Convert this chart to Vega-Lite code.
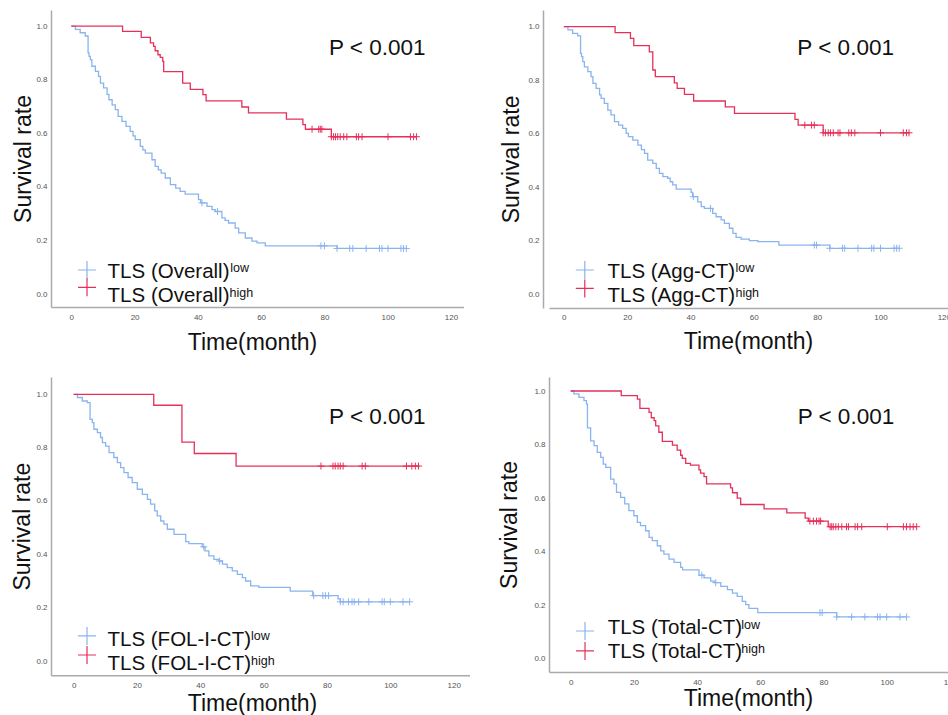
{
"$schema": "https://vega.github.io/schema/vega-lite/v6.json",
"background": "white",
"padding": {"left": 11, "top": 10, "right": -9, "bottom": 0},
"config": {"view": {"stroke": null}, "font": "Liberation Sans",
  "axis": {"domainColor": "#aaaaaa", "domainWidth": 1.5, "ticks": false, "grid": false, "labelFontSize": 8, "labelColor": "#555555", "labelFont": "Liberation Sans", "titleFont": "Liberation Sans", "titleFontSize": 23, "titleFontWeight": "normal", "titleColor": "#111111"}},
"datasets": {
"km": [
{"p":"TL","g":"low","t":0,"s":1},{"p":"TL","g":"low","t":1.3,"s":0.988},{"p":"TL","g":"low","t":2.8,"s":0.975},{"p":"TL","g":"low","t":4.4,"s":0.963},{"p":"TL","g":"low","t":5.3,"s":0.9},{"p":"TL","g":"low","t":5.6,"s":0.887},{"p":"TL","g":"low","t":6.0,"s":0.875},{"p":"TL","g":"low","t":6.5,"s":0.85},{"p":"TL","g":"low","t":7.6,"s":0.831},{"p":"TL","g":"low","t":8.6,"s":0.812},{"p":"TL","g":"low","t":9.2,"s":0.787},{"p":"TL","g":"low","t":10.2,"s":0.769},{"p":"TL","g":"low","t":11.3,"s":0.745},{"p":"TL","g":"low","t":11.9,"s":0.725},{"p":"TL","g":"low","t":12.9,"s":0.706},{"p":"TL","g":"low","t":13.9,"s":0.688},{"p":"TL","g":"low","t":14.8,"s":0.663},{"p":"TL","g":"low","t":16.0,"s":0.644},{"p":"TL","g":"low","t":17.3,"s":0.626},{"p":"TL","g":"low","t":18.6,"s":0.607},{"p":"TL","g":"low","t":19.5,"s":0.59},{"p":"TL","g":"low","t":20.2,"s":0.576},{"p":"TL","g":"low","t":21.8,"s":0.551},{"p":"TL","g":"low","t":22.6,"s":0.538},{"p":"TL","g":"low","t":23.4,"s":0.526},{"p":"TL","g":"low","t":25.5,"s":0.501},{"p":"TL","g":"low","t":26.5,"s":0.476},{"p":"TL","g":"low","t":27.5,"s":0.463},{"p":"TL","g":"low","t":28.4,"s":0.451},{"p":"TL","g":"low","t":29.7,"s":0.433},{"p":"TL","g":"low","t":31.3,"s":0.408},{"p":"TL","g":"low","t":33.0,"s":0.395},{"p":"TL","g":"low","t":34.4,"s":0.383},{"p":"TL","g":"low","t":36.0,"s":0.373},{"p":"TL","g":"low","t":40.2,"s":0.352},{"p":"TL","g":"low","t":40.9,"s":0.34},{"p":"TL","g":"low","t":42.9,"s":0.327},{"p":"TL","g":"low","t":44.5,"s":0.315},{"p":"TL","g":"low","t":45.5,"s":0.308},{"p":"TL","g":"low","t":47.6,"s":0.284},{"p":"TL","g":"low","t":48.6,"s":0.275},{"p":"TL","g":"low","t":49.7,"s":0.265},{"p":"TL","g":"low","t":51.8,"s":0.246},{"p":"TL","g":"low","t":52.9,"s":0.228},{"p":"TL","g":"low","t":55.0,"s":0.209},{"p":"TL","g":"low","t":57.1,"s":0.197},{"p":"TL","g":"low","t":58.7,"s":0.191},{"p":"TL","g":"low","t":61.3,"s":0.18},{"p":"TL","g":"low","t":84.0,"s":0.17},{"p":"TL","g":"low","t":105.9,"s":0.17},
{"p":"TL","g":"high","t":0,"s":1},{"p":"TL","g":"high","t":16.2,"s":0.98},{"p":"TL","g":"high","t":22.1,"s":0.958},{"p":"TL","g":"high","t":25.0,"s":0.937},{"p":"TL","g":"high","t":26.0,"s":0.924},{"p":"TL","g":"high","t":26.5,"s":0.908},{"p":"TL","g":"high","t":27.4,"s":0.893},{"p":"TL","g":"high","t":28.1,"s":0.883},{"p":"TL","g":"high","t":28.9,"s":0.868},{"p":"TL","g":"high","t":29.2,"s":0.83},{"p":"TL","g":"high","t":35.2,"s":0.787},{"p":"TL","g":"high","t":37.6,"s":0.764},{"p":"TL","g":"high","t":41.6,"s":0.744},{"p":"TL","g":"high","t":42.6,"s":0.721},{"p":"TL","g":"high","t":53.9,"s":0.698},{"p":"TL","g":"high","t":56.0,"s":0.676},{"p":"TL","g":"high","t":68.0,"s":0.653},{"p":"TL","g":"high","t":73.2,"s":0.632},{"p":"TL","g":"high","t":74.0,"s":0.615},{"p":"TL","g":"high","t":82.2,"s":0.587},{"p":"TL","g":"high","t":109.1,"s":0.587},
{"p":"TR","g":"low","t":0,"s":1},{"p":"TR","g":"low","t":1.3,"s":0.988},{"p":"TR","g":"low","t":2.8,"s":0.975},{"p":"TR","g":"low","t":4.4,"s":0.966},{"p":"TR","g":"low","t":5.3,"s":0.9},{"p":"TR","g":"low","t":5.6,"s":0.888},{"p":"TR","g":"low","t":6.0,"s":0.869},{"p":"TR","g":"low","t":6.5,"s":0.85},{"p":"TR","g":"low","t":7.6,"s":0.832},{"p":"TR","g":"low","t":8.6,"s":0.813},{"p":"TR","g":"low","t":9.2,"s":0.788},{"p":"TR","g":"low","t":10.2,"s":0.769},{"p":"TR","g":"low","t":11.3,"s":0.745},{"p":"TR","g":"low","t":11.8,"s":0.732},{"p":"TR","g":"low","t":12.8,"s":0.713},{"p":"TR","g":"low","t":13.9,"s":0.688},{"p":"TR","g":"low","t":14.9,"s":0.67},{"p":"TR","g":"low","t":16.0,"s":0.645},{"p":"TR","g":"low","t":17.3,"s":0.632},{"p":"TR","g":"low","t":18.6,"s":0.62},{"p":"TR","g":"low","t":19.7,"s":0.601},{"p":"TR","g":"low","t":20.4,"s":0.589},{"p":"TR","g":"low","t":21.8,"s":0.576},{"p":"TR","g":"low","t":23.4,"s":0.557},{"p":"TR","g":"low","t":24.5,"s":0.54},{"p":"TR","g":"low","t":25.5,"s":0.526},{"p":"TR","g":"low","t":26.5,"s":0.501},{"p":"TR","g":"low","t":28.1,"s":0.489},{"p":"TR","g":"low","t":29.2,"s":0.47},{"p":"TR","g":"low","t":30.2,"s":0.451},{"p":"TR","g":"low","t":31.3,"s":0.439},{"p":"TR","g":"low","t":32.8,"s":0.433},{"p":"TR","g":"low","t":33.6,"s":0.42},{"p":"TR","g":"low","t":34.4,"s":0.408},{"p":"TR","g":"low","t":35.5,"s":0.392},{"p":"TR","g":"low","t":40.2,"s":0.38},{"p":"TR","g":"low","t":40.7,"s":0.364},{"p":"TR","g":"low","t":42.3,"s":0.345},{"p":"TR","g":"low","t":43.4,"s":0.327},{"p":"TR","g":"low","t":44.4,"s":0.32},{"p":"TR","g":"low","t":47.0,"s":0.302},{"p":"TR","g":"low","t":48.1,"s":0.289},{"p":"TR","g":"low","t":49.7,"s":0.277},{"p":"TR","g":"low","t":50.7,"s":0.264},{"p":"TR","g":"low","t":52.3,"s":0.246},{"p":"TR","g":"low","t":53.4,"s":0.227},{"p":"TR","g":"low","t":54.4,"s":0.212},{"p":"TR","g":"low","t":56.0,"s":0.205},{"p":"TR","g":"low","t":58.6,"s":0.2},{"p":"TR","g":"low","t":61.3,"s":0.196},{"p":"TR","g":"low","t":67.9,"s":0.183},{"p":"TR","g":"low","t":84.0,"s":0.171},{"p":"TR","g":"low","t":105.9,"s":0.171},
{"p":"TR","g":"high","t":0,"s":1},{"p":"TR","g":"high","t":16.2,"s":0.978},{"p":"TR","g":"high","t":21.05,"s":0.956},{"p":"TR","g":"high","t":22.1,"s":0.929},{"p":"TR","g":"high","t":27.0,"s":0.906},{"p":"TR","g":"high","t":28.1,"s":0.838},{"p":"TR","g":"high","t":28.9,"s":0.813},{"p":"TR","g":"high","t":34.9,"s":0.79},{"p":"TR","g":"high","t":35.8,"s":0.769},{"p":"TR","g":"high","t":38.1,"s":0.747},{"p":"TR","g":"high","t":41.0,"s":0.722},{"p":"TR","g":"high","t":51.0,"s":0.7},{"p":"TR","g":"high","t":53.9,"s":0.676},{"p":"TR","g":"high","t":73.0,"s":0.653},{"p":"TR","g":"high","t":74.0,"s":0.632},{"p":"TR","g":"high","t":81.9,"s":0.603},{"p":"TR","g":"high","t":109.0,"s":0.603},
{"p":"BL","g":"low","t":0,"s":1},{"p":"BL","g":"low","t":1.2,"s":0.988},{"p":"BL","g":"low","t":2.75,"s":0.975},{"p":"BL","g":"low","t":4.3,"s":0.969},{"p":"BL","g":"low","t":5.2,"s":0.906},{"p":"BL","g":"low","t":5.9,"s":0.894},{"p":"BL","g":"low","t":6.4,"s":0.869},{"p":"BL","g":"low","t":7.5,"s":0.856},{"p":"BL","g":"low","t":8.5,"s":0.838},{"p":"BL","g":"low","t":9.1,"s":0.819},{"p":"BL","g":"low","t":10.1,"s":0.806},{"p":"BL","g":"low","t":11.2,"s":0.781},{"p":"BL","g":"low","t":12.7,"s":0.763},{"p":"BL","g":"low","t":13.8,"s":0.744},{"p":"BL","g":"low","t":14.85,"s":0.725},{"p":"BL","g":"low","t":15.9,"s":0.706},{"p":"BL","g":"low","t":17.2,"s":0.688},{"p":"BL","g":"low","t":18.5,"s":0.669},{"p":"BL","g":"low","t":20.1,"s":0.644},{"p":"BL","g":"low","t":21.7,"s":0.625},{"p":"BL","g":"low","t":23.3,"s":0.606},{"p":"BL","g":"low","t":24.3,"s":0.588},{"p":"BL","g":"low","t":25.6,"s":0.563},{"p":"BL","g":"low","t":26.4,"s":0.544},{"p":"BL","g":"low","t":27.5,"s":0.525},{"p":"BL","g":"low","t":28.5,"s":0.513},{"p":"BL","g":"low","t":29.6,"s":0.494},{"p":"BL","g":"low","t":31.7,"s":0.475},{"p":"BL","g":"low","t":35.4,"s":0.448},{"p":"BL","g":"low","t":36.4,"s":0.44},{"p":"BL","g":"low","t":40.6,"s":0.428},{"p":"BL","g":"low","t":41.5,"s":0.413},{"p":"BL","g":"low","t":42.7,"s":0.394},{"p":"BL","g":"low","t":44.3,"s":0.381},{"p":"BL","g":"low","t":45.9,"s":0.375},{"p":"BL","g":"low","t":47.0,"s":0.363},{"p":"BL","g":"low","t":48.5,"s":0.35},{"p":"BL","g":"low","t":50.1,"s":0.338},{"p":"BL","g":"low","t":51.7,"s":0.325},{"p":"BL","g":"low","t":53.3,"s":0.313},{"p":"BL","g":"low","t":54.3,"s":0.3},{"p":"BL","g":"low","t":55.9,"s":0.282},{"p":"BL","g":"low","t":58.5,"s":0.276},{"p":"BL","g":"low","t":68.4,"s":0.262},{"p":"BL","g":"low","t":75.5,"s":0.245},{"p":"BL","g":"low","t":83.5,"s":0.233},{"p":"BL","g":"low","t":84.2,"s":0.222},{"p":"BL","g":"low","t":106.1,"s":0.222},
{"p":"BL","g":"high","t":0,"s":1},{"p":"BL","g":"high","t":25.3,"s":0.959},{"p":"BL","g":"high","t":34.2,"s":0.821},{"p":"BL","g":"high","t":38.1,"s":0.778},{"p":"BL","g":"high","t":51.3,"s":0.731},{"p":"BL","g":"high","t":109.2,"s":0.731},
{"p":"BR","g":"low","t":0,"s":1},{"p":"BR","g":"low","t":1.0,"s":0.989},{"p":"BR","g":"low","t":2.6,"s":0.976},{"p":"BR","g":"low","t":4.2,"s":0.964},{"p":"BR","g":"low","t":5.0,"s":0.951},{"p":"BR","g":"low","t":5.3,"s":0.862},{"p":"BR","g":"low","t":6.3,"s":0.814},{"p":"BR","g":"low","t":7.4,"s":0.796},{"p":"BR","g":"low","t":8.4,"s":0.771},{"p":"BR","g":"low","t":9.5,"s":0.752},{"p":"BR","g":"low","t":10.3,"s":0.727},{"p":"BR","g":"low","t":11.1,"s":0.715},{"p":"BR","g":"low","t":12.65,"s":0.671},{"p":"BR","g":"low","t":13.7,"s":0.653},{"p":"BR","g":"low","t":14.5,"s":0.621},{"p":"BR","g":"low","t":15.8,"s":0.603},{"p":"BR","g":"low","t":17.1,"s":0.578},{"p":"BR","g":"low","t":18.4,"s":0.553},{"p":"BR","g":"low","t":20.0,"s":0.534},{"p":"BR","g":"low","t":21.1,"s":0.509},{"p":"BR","g":"low","t":22.1,"s":0.497},{"p":"BR","g":"low","t":23.7,"s":0.478},{"p":"BR","g":"low","t":24.8,"s":0.453},{"p":"BR","g":"low","t":25.8,"s":0.441},{"p":"BR","g":"low","t":27.4,"s":0.422},{"p":"BR","g":"low","t":28.5,"s":0.403},{"p":"BR","g":"low","t":29.5,"s":0.391},{"p":"BR","g":"low","t":31.1,"s":0.372},{"p":"BR","g":"low","t":32.7,"s":0.36},{"p":"BR","g":"low","t":34.8,"s":0.341},{"p":"BR","g":"low","t":35.4,"s":0.332},{"p":"BR","g":"low","t":40.6,"s":0.312},{"p":"BR","g":"low","t":42.2,"s":0.302},{"p":"BR","g":"low","t":44.3,"s":0.29},{"p":"BR","g":"low","t":45.5,"s":0.284},{"p":"BR","g":"low","t":47.5,"s":0.27},{"p":"BR","g":"low","t":49.6,"s":0.258},{"p":"BR","g":"low","t":51.2,"s":0.245},{"p":"BR","g":"low","t":52.7,"s":0.233},{"p":"BR","g":"low","t":54.3,"s":0.214},{"p":"BR","g":"low","t":55.4,"s":0.202},{"p":"BR","g":"low","t":56.4,"s":0.188},{"p":"BR","g":"low","t":59.2,"s":0.172},{"p":"BR","g":"low","t":84.2,"s":0.156},{"p":"BR","g":"low","t":106.3,"s":0.156},
{"p":"BR","g":"high","t":0,"s":1},{"p":"BR","g":"high","t":16.0,"s":0.983},{"p":"BR","g":"high","t":21.1,"s":0.97},{"p":"BR","g":"high","t":21.9,"s":0.935},{"p":"BR","g":"high","t":24.8,"s":0.92},{"p":"BR","g":"high","t":25.5,"s":0.9},{"p":"BR","g":"high","t":26.4,"s":0.889},{"p":"BR","g":"high","t":26.9,"s":0.87},{"p":"BR","g":"high","t":27.9,"s":0.846},{"p":"BR","g":"high","t":29.0,"s":0.812},{"p":"BR","g":"high","t":32.2,"s":0.798},{"p":"BR","g":"high","t":33.7,"s":0.779},{"p":"BR","g":"high","t":34.8,"s":0.76},{"p":"BR","g":"high","t":35.3,"s":0.748},{"p":"BR","g":"high","t":36.4,"s":0.73},{"p":"BR","g":"high","t":37.9,"s":0.723},{"p":"BR","g":"high","t":40.6,"s":0.705},{"p":"BR","g":"high","t":41.1,"s":0.693},{"p":"BR","g":"high","t":42.2,"s":0.68},{"p":"BR","g":"high","t":43.0,"s":0.653},{"p":"BR","g":"high","t":50.6,"s":0.638},{"p":"BR","g":"high","t":51.2,"s":0.62},{"p":"BR","g":"high","t":52.7,"s":0.6},{"p":"BR","g":"high","t":53.8,"s":0.576},{"p":"BR","g":"high","t":61.2,"s":0.56},{"p":"BR","g":"high","t":68.4,"s":0.545},{"p":"BR","g":"high","t":74.2,"s":0.525},{"p":"BR","g":"high","t":75.2,"s":0.514},{"p":"BR","g":"high","t":81.5,"s":0.493},{"p":"BR","g":"high","t":109.5,"s":0.493}
],
"cens": [
{"p":"TL","g":"low","t":41.3,"s":0.34},{"p":"TL","g":"low","t":46.2,"s":0.308},{"p":"TL","g":"low","t":78.9,"s":0.18},{"p":"TL","g":"low","t":80.0,"s":0.18},{"p":"TL","g":"low","t":84.0,"s":0.17},{"p":"TL","g":"low","t":88.0,"s":0.17},{"p":"TL","g":"low","t":89.0,"s":0.17},{"p":"TL","g":"low","t":93.2,"s":0.17},{"p":"TL","g":"low","t":97.4,"s":0.17},{"p":"TL","g":"low","t":98.2,"s":0.17},{"p":"TL","g":"low","t":100.1,"s":0.17},{"p":"TL","g":"low","t":104.2,"s":0.17},{"p":"TL","g":"low","t":105.0,"s":0.17},{"p":"TL","g":"low","t":105.9,"s":0.17},
{"p":"TL","g":"high","t":76.1,"s":0.615},{"p":"TL","g":"high","t":78.2,"s":0.615},{"p":"TL","g":"high","t":78.7,"s":0.615},{"p":"TL","g":"high","t":79.2,"s":0.615},{"p":"TL","g":"high","t":82.2,"s":0.587},{"p":"TL","g":"high","t":82.9,"s":0.587},{"p":"TL","g":"high","t":83.5,"s":0.587},{"p":"TL","g":"high","t":84.2,"s":0.587},{"p":"TL","g":"high","t":85.0,"s":0.587},{"p":"TL","g":"high","t":86.1,"s":0.587},{"p":"TL","g":"high","t":87.1,"s":0.587},{"p":"TL","g":"high","t":90.1,"s":0.587},{"p":"TL","g":"high","t":90.8,"s":0.587},{"p":"TL","g":"high","t":91.9,"s":0.587},{"p":"TL","g":"high","t":100.1,"s":0.587},{"p":"TL","g":"high","t":107.2,"s":0.587},{"p":"TL","g":"high","t":108.2,"s":0.587},{"p":"TL","g":"high","t":109.1,"s":0.587},
{"p":"TR","g":"low","t":40.9,"s":0.364},{"p":"TR","g":"low","t":46.3,"s":0.32},{"p":"TR","g":"low","t":79.1,"s":0.183},{"p":"TR","g":"low","t":79.8,"s":0.183},{"p":"TR","g":"low","t":84.0,"s":0.171},{"p":"TR","g":"low","t":88.0,"s":0.171},{"p":"TR","g":"low","t":88.7,"s":0.171},{"p":"TR","g":"low","t":92.9,"s":0.171},{"p":"TR","g":"low","t":97.2,"s":0.171},{"p":"TR","g":"low","t":97.9,"s":0.171},{"p":"TR","g":"low","t":100.0,"s":0.171},{"p":"TR","g":"low","t":104.3,"s":0.171},{"p":"TR","g":"low","t":105.1,"s":0.171},{"p":"TR","g":"low","t":105.9,"s":0.171},
{"p":"TR","g":"high","t":76.1,"s":0.632},{"p":"TR","g":"high","t":78.2,"s":0.632},{"p":"TR","g":"high","t":79.1,"s":0.632},{"p":"TR","g":"high","t":81.9,"s":0.603},{"p":"TR","g":"high","t":82.6,"s":0.603},{"p":"TR","g":"high","t":83.5,"s":0.603},{"p":"TR","g":"high","t":84.2,"s":0.603},{"p":"TR","g":"high","t":85.1,"s":0.603},{"p":"TR","g":"high","t":86.6,"s":0.603},{"p":"TR","g":"high","t":87.2,"s":0.603},{"p":"TR","g":"high","t":90.0,"s":0.603},{"p":"TR","g":"high","t":90.8,"s":0.603},{"p":"TR","g":"high","t":91.9,"s":0.603},{"p":"TR","g":"high","t":100.0,"s":0.603},{"p":"TR","g":"high","t":107.2,"s":0.603},{"p":"TR","g":"high","t":108.2,"s":0.603},{"p":"TR","g":"high","t":109.0,"s":0.603},
{"p":"BL","g":"low","t":41.1,"s":0.428},{"p":"BL","g":"low","t":46.1,"s":0.375},{"p":"BL","g":"low","t":75.8,"s":0.245},{"p":"BL","g":"low","t":78.7,"s":0.245},{"p":"BL","g":"low","t":79.5,"s":0.245},{"p":"BL","g":"low","t":80.5,"s":0.245},{"p":"BL","g":"low","t":84.2,"s":0.222},{"p":"BL","g":"low","t":85.1,"s":0.222},{"p":"BL","g":"low","t":86.8,"s":0.222},{"p":"BL","g":"low","t":87.9,"s":0.222},{"p":"BL","g":"low","t":88.6,"s":0.222},{"p":"BL","g":"low","t":90.0,"s":0.222},{"p":"BL","g":"low","t":93.2,"s":0.222},{"p":"BL","g":"low","t":97.4,"s":0.222},{"p":"BL","g":"low","t":98.1,"s":0.222},{"p":"BL","g":"low","t":100.0,"s":0.222},{"p":"BL","g":"low","t":104.0,"s":0.222},{"p":"BL","g":"low","t":106.1,"s":0.222},
{"p":"BL","g":"high","t":78.1,"s":0.731},{"p":"BL","g":"high","t":81.9,"s":0.731},{"p":"BL","g":"high","t":82.6,"s":0.731},{"p":"BL","g":"high","t":83.5,"s":0.731},{"p":"BL","g":"high","t":84.2,"s":0.731},{"p":"BL","g":"high","t":85.1,"s":0.731},{"p":"BL","g":"high","t":91.1,"s":0.731},{"p":"BL","g":"high","t":92.1,"s":0.731},{"p":"BL","g":"high","t":105.1,"s":0.731},{"p":"BL","g":"high","t":106.8,"s":0.731},{"p":"BL","g":"high","t":107.9,"s":0.731},{"p":"BL","g":"high","t":108.9,"s":0.731},
{"p":"BR","g":"low","t":41.5,"s":0.312},{"p":"BR","g":"low","t":45.9,"s":0.284},{"p":"BR","g":"low","t":78.9,"s":0.172},{"p":"BR","g":"low","t":79.6,"s":0.172},{"p":"BR","g":"low","t":84.2,"s":0.156},{"p":"BR","g":"low","t":88.9,"s":0.156},{"p":"BR","g":"low","t":93.1,"s":0.156},{"p":"BR","g":"low","t":97.1,"s":0.156},{"p":"BR","g":"low","t":97.9,"s":0.156},{"p":"BR","g":"low","t":100.0,"s":0.156},{"p":"BR","g":"low","t":104.2,"s":0.156},{"p":"BR","g":"low","t":106.3,"s":0.156},
{"p":"BR","g":"high","t":75.7,"s":0.514},{"p":"BR","g":"high","t":76.8,"s":0.514},{"p":"BR","g":"high","t":77.8,"s":0.514},{"p":"BR","g":"high","t":78.6,"s":0.514},{"p":"BR","g":"high","t":79.1,"s":0.514},{"p":"BR","g":"high","t":82.1,"s":0.493},{"p":"BR","g":"high","t":82.6,"s":0.493},{"p":"BR","g":"high","t":83.1,"s":0.493},{"p":"BR","g":"high","t":83.9,"s":0.493},{"p":"BR","g":"high","t":84.7,"s":0.493},{"p":"BR","g":"high","t":85.8,"s":0.493},{"p":"BR","g":"high","t":87.3,"s":0.493},{"p":"BR","g":"high","t":87.9,"s":0.493},{"p":"BR","g":"high","t":90.0,"s":0.493},{"p":"BR","g":"high","t":90.8,"s":0.493},{"p":"BR","g":"high","t":92.1,"s":0.493},{"p":"BR","g":"high","t":100.2,"s":0.493},{"p":"BR","g":"high","t":105.3,"s":0.493},{"p":"BR","g":"high","t":106.3,"s":0.493},{"p":"BR","g":"high","t":107.4,"s":0.493},{"p":"BR","g":"high","t":108.4,"s":0.493},{"p":"BR","g":"high","t":109.5,"s":0.493}
],
"leg": [
{"p":"TL","g":"low","k":"sym","t":4.96,"s":0.0896,"label":""},{"p":"TL","g":"high","k":"sym","t":4.96,"s":0.025,"label":""},
{"p":"TL","g":"low","k":"txt","t":11.47,"s":0.0586,"label":"TLS (Overall)"},{"p":"TL","g":"high","k":"txt","t":11.47,"s":-0.0287,"label":"TLS (Overall)"},
{"p":"TL","g":"low","k":"sup","t":50.25,"s":0.083,"label":"low"},{"p":"TL","g":"high","k":"sup","t":50.0,"s":-0.01,"label":"high"},
{"p":"TR","g":"low","k":"sym","t":6.63,"s":0.0898,"label":""},{"p":"TR","g":"high","k":"sym","t":6.63,"s":0.021,"label":""},
{"p":"TR","g":"low","k":"txt","t":13.8,"s":0.061,"label":"TLS (Agg-CT)"},{"p":"TR","g":"high","k":"txt","t":13.8,"s":-0.029,"label":"TLS (Agg-CT)"},
{"p":"TR","g":"low","k":"sup","t":54.2,"s":0.083,"label":"low"},{"p":"TR","g":"high","k":"sup","t":54.2,"s":-0.01,"label":"high"},
{"p":"BL","g":"low","k":"sym","t":4.23,"s":0.094,"label":""},{"p":"BL","g":"high","k":"sym","t":4.23,"s":0.0225,"label":""},
{"p":"BL","g":"low","k":"txt","t":10.7,"s":0.056,"label":"TLS (FOL-I-CT)"},{"p":"BL","g":"high","k":"txt","t":10.7,"s":-0.035,"label":"TLS (FOL-I-CT)"},
{"p":"BL","g":"low","k":"sup","t":56.0,"s":0.079,"label":"low"},{"p":"BL","g":"high","k":"sup","t":56.0,"s":-0.016,"label":"high"},
{"p":"BR","g":"low","k":"sym","t":4.53,"s":0.1035,"label":""},{"p":"BR","g":"high","k":"sym","t":4.53,"s":0.029,"label":""},
{"p":"BR","g":"low","k":"txt","t":11.7,"s":0.091,"label":"TLS (Total-CT)"},{"p":"BR","g":"high","k":"txt","t":11.7,"s":0.004,"label":"TLS (Total-CT)"},
{"p":"BR","g":"low","k":"sup","t":54.0,"s":0.112,"label":"low"},{"p":"BR","g":"high","k":"sup","t":54.0,"s":0.02,"label":"high"}
],
"pv": [
{"p":"TL","t":96.7,"s":0.892,"label":"P < 0.001"},{"p":"TR","t":89.0,"s":0.894,"label":"P < 0.001"},{"p":"BL","t":95.9,"s":0.8875,"label":"P < 0.001"},{"p":"BR","t":87.1,"s":0.8756,"label":"P < 0.001"}
]
},
"columns": 2,
"align": "none",
"bounds": "flush",
"spacing": {"row": 69, "column": 79},
"concat": [
{"width": 412.6, "height": 297,
 "encoding": {
  "x": {"field": "t", "type": "quantitative", "scale": {"domain": [-6.42, 124], "nice": false, "zero": false}, "axis": {"values": [0,20,40,60,80,100,120], "title": "Time(month)", "titlePadding": 10, "titleX": 201, "labelPadding": 6}},
  "y": {"field": "s", "type": "quantitative", "scale": {"domain": [-0.0485, 1.06], "nice": false, "zero": false}, "axis": {"values": [0,0.2,0.4,0.6,0.8,1], "format": ".1f", "title": "Survival rate", "titlePadding": 0, "labelPadding": 4}},
  "color": {"field": "g", "type": "nominal", "scale": {"domain": ["low","high"], "range": ["#8AB4EE","#E5305A"]}, "legend": null}
 },
 "layer": [
  {"data": {"name": "km"}, "transform": [{"filter": "datum.p === 'TL'"}], "mark": {"type": "line", "interpolate": "step-after", "strokeWidth": 1.3}},
  {"data": {"name": "cens"}, "transform": [{"filter": "datum.p === 'TL'"}], "mark": {"type": "point", "shape": "M-1,0H1M0,-1V1", "size": 49, "strokeWidth": 1, "opacity": 1, "filled": false}},
  {"data": {"name": "leg"}, "transform": [{"filter": "datum.p === 'TL' && datum.k === 'sym'"}], "mark": {"type": "point", "shape": "M-1,0H1M0,-1V1", "size": 324, "strokeWidth": 1.2, "opacity": 1, "filled": false}},
  {"data": {"name": "leg"}, "transform": [{"filter": "datum.p === 'TL' && datum.k === 'txt'"}], "mark": {"type": "text", "align": "left", "baseline": "alphabetic", "fontSize": 20.5}, "encoding": {"text": {"field": "label"}, "color": {"value": "#111111"}}},
  {"data": {"name": "leg"}, "transform": [{"filter": "datum.p === 'TL' && datum.k === 'sup'"}], "mark": {"type": "text", "align": "left", "baseline": "alphabetic", "fontSize": 12.5}, "encoding": {"text": {"field": "label"}, "color": {"value": "#111111"}}},
  {"data": {"name": "pv"}, "transform": [{"filter": "datum.p === 'TL'"}], "mark": {"type": "text", "align": "center", "baseline": "alphabetic", "fontSize": 22.5}, "encoding": {"text": {"field": "label"}, "color": {"value": "#111111"}}}
 ]},
{"width": 407.5, "height": 297.9,
 "encoding": {
  "x": {"field": "t", "type": "quantitative", "scale": {"domain": [-4.67, 124], "nice": false, "zero": false}, "axis": {"values": [0,20,40,60,80,100,120], "title": "Time(month)", "titlePadding": 9, "titleX": 199, "labelPadding": 6}},
  "y": {"field": "s", "type": "quantitative", "scale": {"domain": [-0.052, 1.0625], "nice": false, "zero": false}, "axis": {"values": [0,0.2,0.4,0.6,0.8,1], "format": ".1f", "title": "Survival rate", "titlePadding": 4, "labelPadding": 4, "offset": 6}},
  "color": {"field": "g", "type": "nominal", "scale": {"domain": ["low","high"], "range": ["#8AB4EE","#E5305A"]}, "legend": null}
 },
 "layer": [
  {"data": {"name": "km"}, "transform": [{"filter": "datum.p === 'TR'"}], "mark": {"type": "line", "interpolate": "step-after", "strokeWidth": 1.3}},
  {"data": {"name": "cens"}, "transform": [{"filter": "datum.p === 'TR'"}], "mark": {"type": "point", "shape": "M-1,0H1M0,-1V1", "size": 49, "strokeWidth": 1, "opacity": 1, "filled": false}},
  {"data": {"name": "leg"}, "transform": [{"filter": "datum.p === 'TR' && datum.k === 'sym'"}], "mark": {"type": "point", "shape": "M-1,0H1M0,-1V1", "size": 324, "strokeWidth": 1.2, "opacity": 1, "filled": false}},
  {"data": {"name": "leg"}, "transform": [{"filter": "datum.p === 'TR' && datum.k === 'txt'"}], "mark": {"type": "text", "align": "left", "baseline": "alphabetic", "fontSize": 20.5}, "encoding": {"text": {"field": "label"}, "color": {"value": "#111111"}}},
  {"data": {"name": "leg"}, "transform": [{"filter": "datum.p === 'TR' && datum.k === 'sup'"}], "mark": {"type": "text", "align": "left", "baseline": "alphabetic", "fontSize": 12.5}, "encoding": {"text": {"field": "label"}, "color": {"value": "#111111"}}},
  {"data": {"name": "pv"}, "transform": [{"filter": "datum.p === 'TR'"}], "mark": {"type": "text", "align": "center", "baseline": "alphabetic", "fontSize": 22.5}, "encoding": {"text": {"field": "label"}, "color": {"value": "#111111"}}}
 ]},
{"width": 418.5, "height": 298.3,
 "encoding": {
  "x": {"field": "t", "type": "quantitative", "scale": {"domain": [-7.14, 125.0], "nice": false, "zero": false}, "axis": {"values": [0,20,40,60,80,100,120], "title": "Time(month)", "titlePadding": 3, "titleX": 201, "labelPadding": 6}},
  "y": {"field": "s", "type": "quantitative", "scale": {"domain": [-0.0536, 1.0649], "nice": false, "zero": false}, "axis": {"values": [0,0.2,0.4,0.6,0.8,1], "format": ".1f", "title": "Survival rate", "titlePadding": 1.5, "labelPadding": 4}},
  "color": {"field": "g", "type": "nominal", "scale": {"domain": ["low","high"], "range": ["#8AB4EE","#E5305A"]}, "legend": null}
 },
 "layer": [
  {"data": {"name": "km"}, "transform": [{"filter": "datum.p === 'BL'"}], "mark": {"type": "line", "interpolate": "step-after", "strokeWidth": 1.3}},
  {"data": {"name": "cens"}, "transform": [{"filter": "datum.p === 'BL'"}], "mark": {"type": "point", "shape": "M-1,0H1M0,-1V1", "size": 49, "strokeWidth": 1, "opacity": 1, "filled": false}},
  {"data": {"name": "leg"}, "transform": [{"filter": "datum.p === 'BL' && datum.k === 'sym'"}], "mark": {"type": "point", "shape": "M-1,0H1M0,-1V1", "size": 324, "strokeWidth": 1.2, "opacity": 1, "filled": false}},
  {"data": {"name": "leg"}, "transform": [{"filter": "datum.p === 'BL' && datum.k === 'txt'"}], "mark": {"type": "text", "align": "left", "baseline": "alphabetic", "fontSize": 20.5}, "encoding": {"text": {"field": "label"}, "color": {"value": "#111111"}}},
  {"data": {"name": "leg"}, "transform": [{"filter": "datum.p === 'BL' && datum.k === 'sup'"}], "mark": {"type": "text", "align": "left", "baseline": "alphabetic", "fontSize": 12.5}, "encoding": {"text": {"field": "label"}, "color": {"value": "#111111"}}},
  {"data": {"name": "pv"}, "transform": [{"filter": "datum.p === 'BL'"}], "mark": {"type": "text", "align": "center", "baseline": "alphabetic", "fontSize": 22.5}, "encoding": {"text": {"field": "label"}, "color": {"value": "#111111"}}}
 ]},
{"width": 413.5, "height": 295,
 "encoding": {
  "x": {"field": "t", "type": "quantitative", "scale": {"domain": [-6.87, 124], "nice": false, "zero": false}, "axis": {"values": [0,20,40,60,80,100,120], "title": "Time(month)", "titlePadding": 1, "titleX": 199, "labelPadding": 6}},
  "y": {"field": "s", "type": "quantitative", "scale": {"domain": [-0.0497, 1.0523], "nice": false, "zero": false}, "axis": {"values": [0,0.2,0.4,0.6,0.8,1], "format": ".1f", "title": "Survival rate", "titlePadding": 12, "labelPadding": 4}},
  "color": {"field": "g", "type": "nominal", "scale": {"domain": ["low","high"], "range": ["#8AB4EE","#E5305A"]}, "legend": null}
 },
 "layer": [
  {"data": {"name": "km"}, "transform": [{"filter": "datum.p === 'BR'"}], "mark": {"type": "line", "interpolate": "step-after", "strokeWidth": 1.3}},
  {"data": {"name": "cens"}, "transform": [{"filter": "datum.p === 'BR'"}], "mark": {"type": "point", "shape": "M-1,0H1M0,-1V1", "size": 49, "strokeWidth": 1, "opacity": 1, "filled": false}},
  {"data": {"name": "leg"}, "transform": [{"filter": "datum.p === 'BR' && datum.k === 'sym'"}], "mark": {"type": "point", "shape": "M-1,0H1M0,-1V1", "size": 324, "strokeWidth": 1.2, "opacity": 1, "filled": false}},
  {"data": {"name": "leg"}, "transform": [{"filter": "datum.p === 'BR' && datum.k === 'txt'"}], "mark": {"type": "text", "align": "left", "baseline": "alphabetic", "fontSize": 20.5}, "encoding": {"text": {"field": "label"}, "color": {"value": "#111111"}}},
  {"data": {"name": "leg"}, "transform": [{"filter": "datum.p === 'BR' && datum.k === 'sup'"}], "mark": {"type": "text", "align": "left", "baseline": "alphabetic", "fontSize": 12.5}, "encoding": {"text": {"field": "label"}, "color": {"value": "#111111"}}},
  {"data": {"name": "pv"}, "transform": [{"filter": "datum.p === 'BR'"}], "mark": {"type": "text", "align": "center", "baseline": "alphabetic", "fontSize": 22.5}, "encoding": {"text": {"field": "label"}, "color": {"value": "#111111"}}}
 ]}
]
}
